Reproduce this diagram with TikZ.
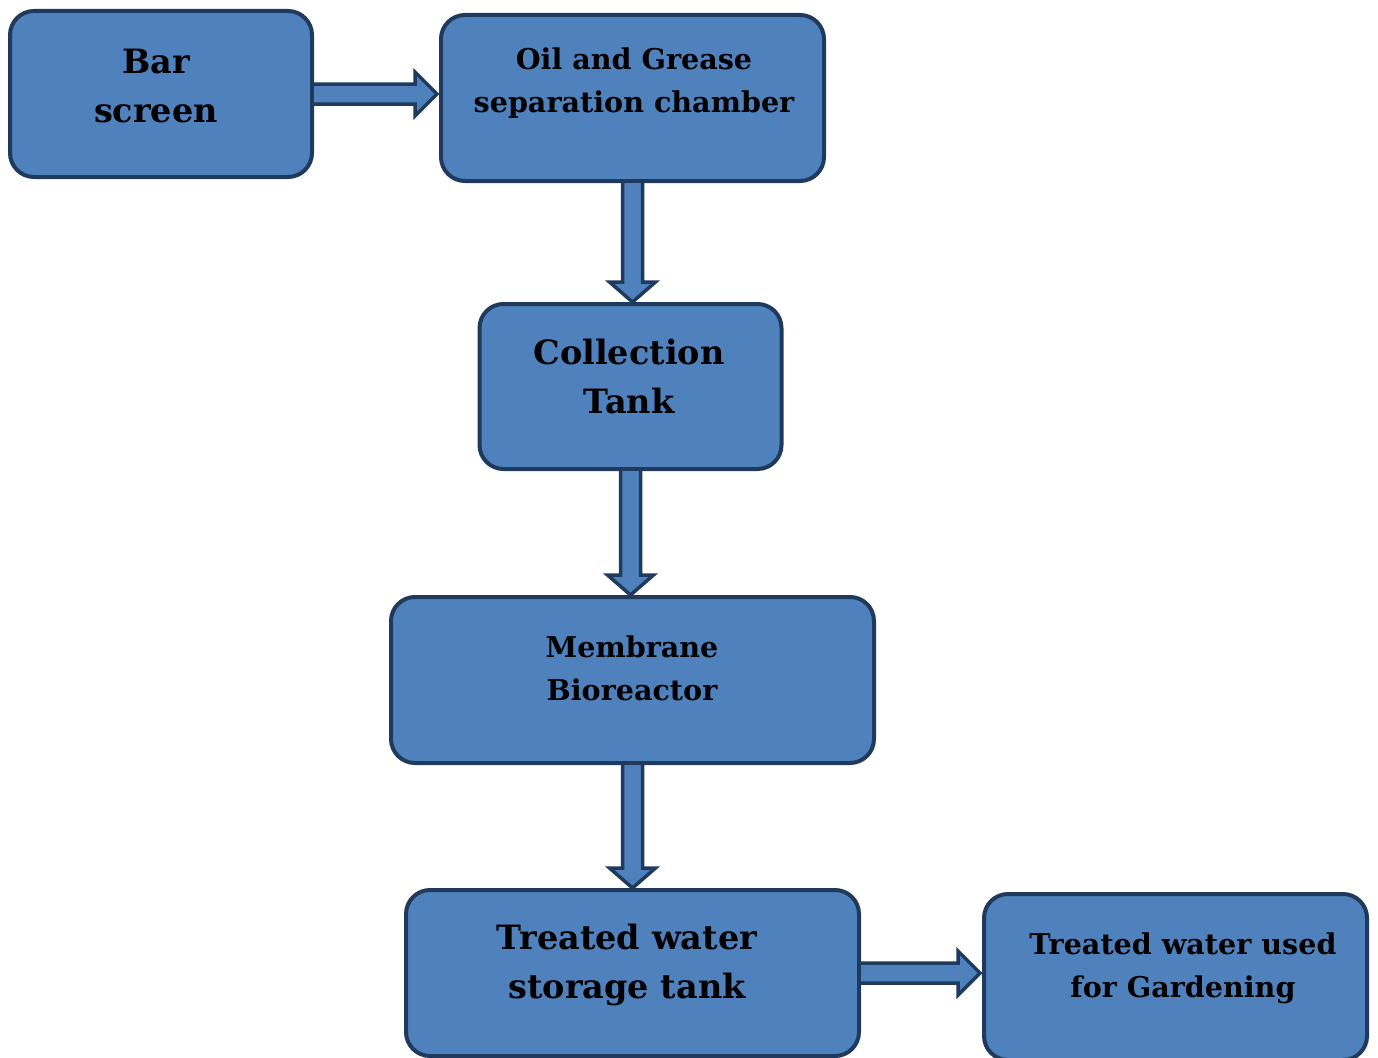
\documentclass[tikz,border=0pt]{standalone}
\usepackage{fontspec}
\setmainfont{DejaVu Serif}
\usetikzlibrary{calc}
\definecolor{boxfill}{HTML}{4F81BD}
\definecolor{boxline}{HTML}{1F3A5C}
\tikzset{
  box/.style={draw=boxline, fill=boxfill, line width=4pt, rounded corners=24pt, inner sep=0pt, outer sep=0pt},
  bigtxt/.style={align=center, font=\fontsize{33.5}{49}\selectfont\bfseries, inner sep=0pt},
  smalltxt/.style={align=center, font=\fontsize{28.6}{43}\selectfont\bfseries, inner sep=0pt},
  flow/.style={draw=boxline, fill=boxfill, line width=3.5pt, line join=miter}
}
\newcommand{\harrow}[2]{%
  \draw[flow] let \p1=(#1.east), \p2=(#2.west) in
    (\x1,\y1+10) -- (\x2-26,\y1+10) -- (\x2-26,\y1+22) -- (\x2-4,\y1) --
    (\x2-26,\y1-22) -- (\x2-26,\y1-10) -- (\x1,\y1-10) -- cycle;}
\newcommand{\varrow}[2]{%
  \draw[flow] let \p1=(#1.south), \p2=(#2.north) in
    (\x1-10,\y1) -- (\x1-10,\y2+22) -- (\x1-23,\y2+22) -- (\x1,\y2+2) --
    (\x1+23,\y2+22) -- (\x1+10,\y2+22) -- (\x1+10,\y1) -- cycle;}
\begin{document}
\begin{tikzpicture}[x=1pt,y=-1pt]
\useasboundingbox (0,0) rectangle (1378,1057);
\node[box, minimum width=302pt, minimum height=166pt] (bar) at (161,94) {};
\node[box, minimum width=383pt, minimum height=166pt] (oil) at (632.5,98) {};
\node[box, minimum width=302pt, minimum height=165pt] (coll) at (630.5,386.5) {};
\node[box, minimum width=483pt, minimum height=166pt] (mem) at (632.5,680) {};
\node[box, minimum width=453pt, minimum height=166pt] (tws) at (632.5,973) {};
\node[box, minimum width=383pt, minimum height=166pt] (gard) at (1175.5,977) {};

\node[bigtxt] (tbar) at (156,86) {Bar\\screen};
\node[smalltxt] (toil) at (634,83) {Oil and Grease\\separation chamber};
\node[bigtxt] (tcoll) at (629,377) {Collection\\Tank};
\node[smalltxt] (tmem) at (632,668) {Membrane\\Bioreactor};
\node[bigtxt] (ttws) at (627,965) {Treated water\\storage tank};
\node[smalltxt] (tgard) at (1183,968) {Treated water used\\for Gardening};

\harrow{bar}{oil}
\varrow{oil}{coll}
\varrow{coll}{mem}
\varrow{mem}{tws}
\harrow{tws}{gard}
\end{tikzpicture}
\end{document}
